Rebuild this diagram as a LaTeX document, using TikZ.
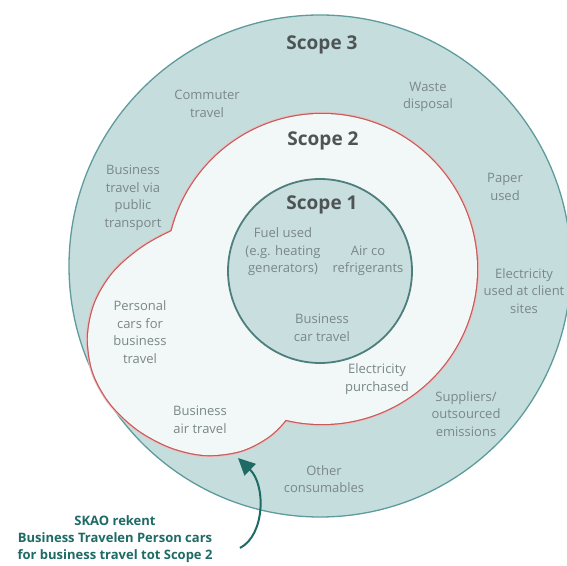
\documentclass[tikz,border=0pt]{standalone}
\usepackage{fontspec}
\setmainfont{Open Sans}
\usetikzlibrary{arrows.meta}
\definecolor{ringfill}{HTML}{C6DDDE}
\definecolor{ringline}{HTML}{5E9B9C}
\definecolor{twofill}{HTML}{F2F7F7}
\definecolor{redline}{HTML}{C65A5A}
\definecolor{pinkhalo}{HTML}{EDBDBD}
\definecolor{onefill}{HTML}{C9DEDF}
\definecolor{oneline}{HTML}{4F7F7D}
\definecolor{itemtext}{HTML}{7A8787}
\definecolor{titletext}{HTML}{4D5455}
\definecolor{notetext}{HTML}{1E6B66}
\begin{document}
\begin{tikzpicture}[x=1pt,y=1pt,
  item/.style={align=center,inner sep=0pt,text=itemtext,font=\fontsize{13}{17.5}\selectfont},
  title/.style={inner sep=0pt,text=titletext,font=\fontsize{19}{22}\selectfont\bfseries},
  note/.style={align=center,inner sep=0pt,text=notetext,font=\fontsize{13}{17}\selectfont\bfseries},
  pointer/.style={draw=notetext,line width=2pt,-{Triangle[length=17pt,width=16pt]}}]
\useasboundingbox (0,0) rectangle (567,565);
\clip (0,0) rectangle (567,565);
\fill[white] (0,0) rectangle (567,565);
% Scope 3 ring
\draw[fill=ringfill,draw=ringline,line width=1.3pt] (320,299) circle[radius=251];
% Scope 2 union shape: border first, then fill
\def\lobe{plot[smooth cycle,tension=0.55] coordinates {(170,333) (140,316) (113,292) (95,262) (88,228) (93,193) (110,162) (137,136) (170,118) (205,110) (240,114) (268,128) (287,147) (300,170) (260,265) (200,343)}}
\draw[pinkhalo,line width=4.2pt] (322,296) circle[radius=155];
\draw[pinkhalo,line width=4.2pt] \lobe;
\draw[redline,line width=2.4pt] (322,296) circle[radius=155];
\draw[redline,line width=2.4pt] \lobe;
\fill[twofill] (322,296) circle[radius=155];
\fill[twofill] \lobe;
% Scope 1
\draw[fill=onefill,draw=oneline,line width=1.8pt] (320,294) circle[radius=92];
% titles
\node[title] (s3) at (322,520) {Scope 3};
\node[title] (s2) at (323,424) {Scope 2};
\node[title] (s1) at (322,360) {Scope 1};
% scope 3 items
\node[item] (commuter) at (207,461) {Commuter\\travel};
\node[item] (waste) at (428,468) {Waste\\disposal};
\node[item] (public) at (133,367) {Business\\travel via\\public\\transport};
\node[item] (paper) at (505,378) {Paper\\used};
\node[item] (client) at (524,274) {Electricity\\used at client\\sites};
\node[item] (suppliers) at (466,151) {Suppliers/\\outsourced\\emissions};
\node[item] (other) at (324,86) {Other\\consumables};
% scope 2 items
\node[item] (personal) at (140,233) {Personal\\cars for\\business\\travel};
\node[item] (air) at (200,145) {Business\\air travel};
\node[item] (elec) at (377,186) {Electricity\\purchased};
% scope 1 items
\node[item] (fuel) at (283,313) {Fuel used\\(e.g. heating\\generators)};
\node[item] (airco) at (368,304) {Air co\\refrigerants};
\node[item] (car) at (322,237) {Business\\car travel};
% annotation
\node[note] (skao) at (115,26) {SKAO rekent\\Business Travelen Person cars\\for business travel tot Scope 2};
\coordinate (tail) at (240,17);
\coordinate (tip) at (238,107);
\draw[pointer] (tail) .. controls (265,30) and (266,80) .. (tip);
\end{tikzpicture}
\end{document}
